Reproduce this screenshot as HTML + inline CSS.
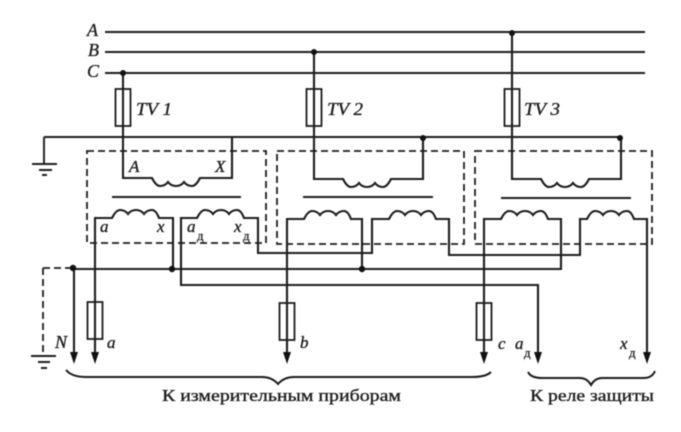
<!DOCTYPE html>
<html lang="ru"><head><meta charset="utf-8"><style>
html,body{margin:0;padding:0;background:#fff;width:681px;height:432px;overflow:hidden}
svg{display:block;filter:blur(.55px)}
text{font-family:"Liberation Serif",serif;fill:#1c1c1c;stroke:#1c1c1c}
.i{font-style:italic;font-size:18px;stroke-width:.35px}
.s{font-style:italic;font-size:17px;stroke-width:.35px}
.d{font-size:13px;stroke-width:.3px}
.b{font-size:17px;stroke-width:.35px}
</style></head><body>
<svg width="681" height="432" viewBox="0 0 681 432" xmlns="http://www.w3.org/2000/svg">
<g fill="none" stroke="#1c1c1c" stroke-width="2.1">
<!-- buses -->
<path d="M105 32H645M105 52H645M105 73H645"/>
<!-- ground bus -->
<path d="M44 137H620M44 137V164M32 164H57M39 170H52M42 175H47" stroke-width="1.9"/>
<!-- dashed boxes -->
<g stroke-dasharray="7 4" stroke-width="1.8">
<path d="M87 151H266V243H87Z"/>
<path d="M277 151H464V244H277Z"/>
<path d="M475 151H652V244H475Z"/>
<path d="M43 268H72M43 268V355"/>
</g>
<path d="M31 356H56M38 362H50M41 368H47" stroke-width="1.9"/>
<!-- primaries -->
<path d="M123 73V178H152q4 8 8 8q5 0 8 -4q3 4 8 4q5 0 8 -4q3 4 8 4q4 0 8 -8H232V137"/>
<path d="M314 52V179H343q4 8 8 8q5 0 8 -4q3 4 8 4q5 0 8 -4q3 4 8 4q4 0 8 -8H423V138"/>
<path d="M512 32V179H541q4 8 8 8q5 0 8 -4q3 4 8 4q5 0 8 -4q3 4 8 4q4 0 8 -8H621V138"/>
<!-- cores -->
<path d="M112 197H241M303 197H433M501 198H631"/>
<!-- secondaries -->
<path d="M95 355V218H112q4 -8 8 -8q5 0 8 4q3 -4 8 -4q5 0 8 4q3 -4 8 -4q4 0 7 8H173V268"/>
<path d="M538 355V285H181V218H197q4 -8 8 -8q5 0 8 4q3 -4 8 -4q5 0 8 4q3 -4 8 -4q4 0 7 8H258V253H372V219H389q4 -8 8 -8q5 0 8 4q3 -4 8 -4q5 0 8 4q3 -4 8 -4q4 0 7 8H449V255H580V219H587q4 -8 8 -8q5 0 8 4q3 -4 8 -4q5 0 8 4q3 -4 8 -4q4 0 7 8H647V355"/>
<path d="M287 355V219H304q4 -8 8 -8q5 0 8 4q3 -4 8 -4q5 0 8 4q3 -4 8 -4q4 0 7 8H362V269"/>
<path d="M484 355V219H501q4 -8 8 -8q5 0 8 4q3 -4 8 -4q5 0 8 4q3 -4 8 -4q4 0 7 8H561V270"/>
<!-- neutral -->
<path d="M72 269H561M74 269V355"/>
<!-- braces -->
<path d="M66 370Q72 377 86 377H262Q272 377 278 384Q284 377 294 377H472Q486 377 491 372" stroke-width="2"/>
<path d="M528 372Q531 378 542 378H580Q587 378 591 385Q595 378 602 378H644Q652 378 655 371" stroke-width="2"/>
</g>
<!-- fuses -->
<g fill="none" stroke="#1c1c1c" stroke-width="1.8">
<rect x="115.500" y="89" width="15" height="37"/>
<rect x="306.500" y="89" width="15" height="37"/>
<rect x="504.500" y="89" width="15" height="37"/>
<rect x="87.500" y="302" width="15" height="37"/>
<rect x="279.500" y="303" width="15" height="37"/>
<rect x="476.500" y="303" width="15" height="37"/>
</g>
<!-- dots -->
<g fill="#111">
<circle cx="123" cy="73" r="3"/><circle cx="314" cy="52" r="3"/><circle cx="512" cy="33" r="3"/>
<circle cx="423" cy="138" r="3"/><circle cx="620" cy="138" r="3"/>
<circle cx="73" cy="268" r="3.200"/><circle cx="172" cy="269" r="3.200"/><circle cx="362" cy="269" r="3.200"/>
<!-- arrowheads -->
<path d="M70 352H78L74 364Z"/><path d="M91 352H99L95 364Z"/><path d="M283 352H291L287 364Z"/>
<path d="M480 352H488L484 364Z"/><path d="M534 352H542L538 364Z"/><path d="M643 352H651L647 364Z"/>
</g>
<!-- labels -->
<text class="i" x="87" y="36">A</text>
<text class="i" x="88" y="56">B</text>
<text class="i" x="87" y="77">C</text>
<text class="i" x="136" y="115" textLength="36" lengthAdjust="spacingAndGlyphs">TV 1</text>
<text class="i" x="327" y="115" textLength="36" lengthAdjust="spacingAndGlyphs">TV 2</text>
<text class="i" x="524" y="115" textLength="36" lengthAdjust="spacingAndGlyphs">TV 3</text>
<text class="s" x="129" y="172">A</text>
<text class="s" x="215" y="172">X</text>
<text class="s" x="100" y="232">a</text>
<text class="s" x="157" y="232">x</text>
<text class="s" x="187" y="232">a</text><text class="d" x="197" y="240">д</text>
<text class="s" x="234" y="232">x</text><text class="d" x="243" y="240">д</text>
<text class="i" x="55" y="348">N</text>
<text class="s" x="107" y="348">a</text>
<text class="s" x="300" y="348">b</text>
<text class="s" x="498" y="349">c</text>
<text class="s" x="515" y="349">a</text><text class="d" x="524" y="357">д</text>
<text class="s" x="620" y="349">x</text><text class="d" x="629" y="357">д</text>
<text class="b" x="162" y="401" textLength="239" lengthAdjust="spacingAndGlyphs">К измерительным приборам</text>
<text class="b" x="530" y="401" textLength="124" lengthAdjust="spacingAndGlyphs">К реле защиты</text>
</svg>
</body></html>
